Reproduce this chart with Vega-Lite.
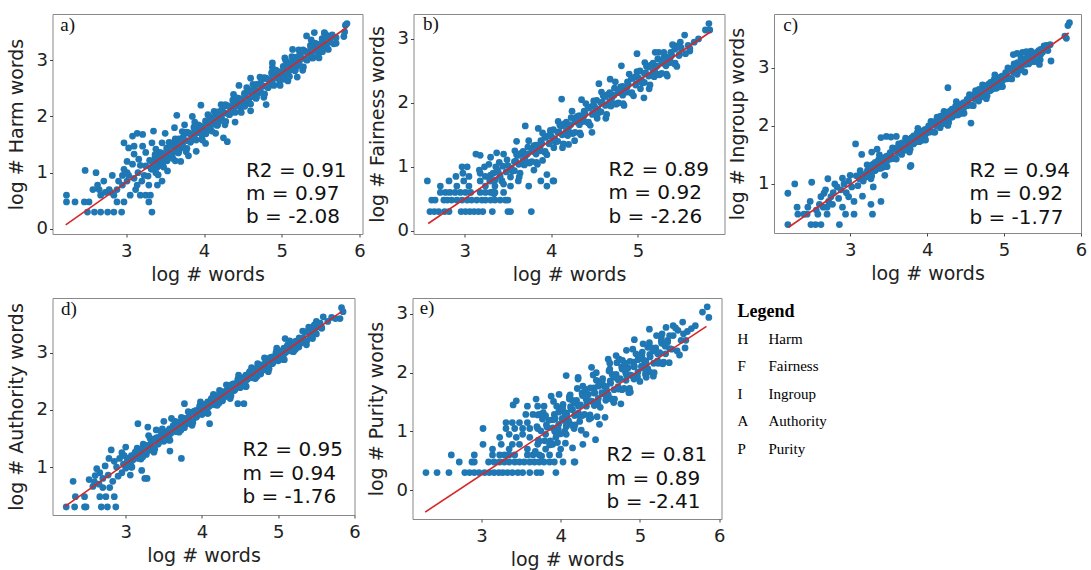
{
  "$schema": "https://vega.github.io/schema/vega-lite/v6.json",
  "background": "white",
  "padding": {"left": 6.5, "top": 13, "right": 2, "bottom": 2},
  "config": {
    "view": {"stroke": "#888888", "strokeWidth": 1},
    "axis": {
      "grid": false, "domain": false, "tickColor": "#444444", "tickSize": 3, "format": "d",
      "labelFont": "DejaVu Sans", "labelFontSize": 18, "labelColor": "#222222", "labelFlush": false,
      "titleFont": "DejaVu Sans", "titleFontSize": 19, "titleFontWeight": "normal", "titleColor": "#222222"
    },
    "axisX": {"labelPadding": 5, "titlePadding": 5},
    "axisY": {"labelPadding": 2, "titlePadding": 10}
  },
  "datasets": {
    "fits": [
      {"panel": "a", "x": 2.22, "y": 0.073}, {"panel": "a", "x": 5.84, "y": 3.585},
      {"panel": "b", "x": 2.58, "y": 0.114}, {"panel": "b", "x": 5.84, "y": 3.113},
      {"panel": "c", "x": 2.20, "y": 0.254}, {"panel": "c", "x": 5.84, "y": 3.603},
      {"panel": "d", "x": 2.20, "y": 0.308}, {"panel": "d", "x": 5.83, "y": 3.720},
      {"panel": "e", "x": 2.29, "y": -0.372}, {"panel": "e", "x": 5.84, "y": 2.788}
    ],
    "stats": [
      {"panel": "a", "tag": "a)", "label": "R2 = 0.91\nm = 0.97\nb = -2.08"},
      {"panel": "b", "tag": "b)", "label": "R2 = 0.89\nm = 0.92\nb = -2.26"},
      {"panel": "c", "tag": "c)", "label": "R2 = 0.94\nm = 0.92\nb = -1.77"},
      {"panel": "d", "tag": "d)", "label": "R2 = 0.95\nm = 0.94\nb = -1.76"},
      {"panel": "e", "tag": "e)", "label": "R2 = 0.81\nm = 0.89\nb = -2.41"}
    ],
    "legendItems": [
      {"code": "H", "name": "Harm", "rank": 1},
      {"code": "F", "name": "Fairness", "rank": 2},
      {"code": "I", "name": "Ingroup", "rank": 3},
      {"code": "A", "name": "Authority", "rank": 4},
      {"code": "P", "name": "Purity", "rank": 5}
    ],
    "harm": [
      {"x":2.23,"y":0.60},{"x":2.23,"y":0.48},{"x":2.34,"y":0.48},{"x":2.46,"y":0.48},{"x":2.52,"y":0.48},{"x":2.47,"y":1.04},
      {"x":2.50,"y":0.30},{"x":2.59,"y":0.30},{"x":2.67,"y":0.30},{"x":2.76,"y":0.30},{"x":2.84,"y":0.30},{"x":2.94,"y":0.30},
      {"x":2.61,"y":1.00},{"x":2.63,"y":0.78},{"x":2.65,"y":0.70},{"x":2.71,"y":0.85},{"x":2.82,"y":0.95},{"x":2.73,"y":0.65},{"x":2.80,"y":0.65},
      {"x":2.88,"y":0.70},{"x":2.95,"y":0.78},{"x":2.95,"y":0.95},{"x":3.01,"y":1.00},{"x":2.88,"y":0.48},{"x":2.97,"y":0.48},
      {"x":3.01,"y":0.85},{"x":3.10,"y":0.90},{"x":3.12,"y":0.70},{"x":3.18,"y":0.60},{"x":3.25,"y":0.60},{"x":3.31,"y":0.60},{"x":3.33,"y":0.30},{"x":3.29,"y":0.48},
      {"x":2.97,"y":1.53},{"x":3.03,"y":1.44},{"x":3.08,"y":1.65},{"x":3.14,"y":1.70},{"x":3.21,"y":1.68},{"x":3.10,"y":1.47},{"x":3.10,"y":1.33},{"x":3.16,"y":1.24},
      {"x":3.01,"y":1.20},{"x":3.08,"y":1.15},{"x":2.97,"y":1.06},{"x":3.03,"y":0.95},{"x":3.21,"y":1.47},{"x":3.25,"y":1.36},{"x":3.18,"y":1.13},{"x":3.25,"y":1.12},
      {"x":3.33,"y":1.53},{"x":3.37,"y":1.27},{"x":3.33,"y":1.10},{"x":3.41,"y":0.96},{"x":3.46,"y":0.85},{"x":3.35,"y":1.74},{"x":3.65,"y":2.02},
      {"x":3.29,"y":0.78},{"x":3.14,"y":0.78},{"x":2.90,"y":0.85},{"x":2.78,"y":0.70},{"x":2.84,"y":0.60},{"x":2.67,"y":0.60},{"x":2.57,"y":0.70},
      {"x":3.53,"y":1.03},{"x":3.59,"y":1.32},{"x":3.63,"y":1.21},{"x":3.53,"y":1.32},{"x":3.46,"y":1.53},{"x":3.57,"y":1.53},
      {"x":3.05,"y":0.60},{"x":3.20,"y":0.85},{"x":3.15,"y":1.00},{"x":3.38,"y":1.00},{"x":3.42,"y":1.15},{"x":3.23,"y":0.95},{"x":3.40,"y":0.78},
      {"x":3.50,"y":1.70},{"x":3.62,"y":1.80},{"x":3.75,"y":1.85},{"x":3.85,"y":2.00},{"x":3.96,"y":2.20},{"x":3.70,"y":1.20},{"x":3.80,"y":1.30},{"x":3.90,"y":1.38},
      {"x":4.02,"y":1.52},{"x":4.30,"y":1.55},{"x":4.25,"y":1.62},{"x":4.15,"y":1.70},{"x":4.45,"y":2.55},{"x":4.60,"y":2.68},{"x":4.88,"y":2.95},{"x":5.04,"y":3.04},
      {"x":5.14,"y":3.19},{"x":5.32,"y":3.43},{"x":5.42,"y":3.49},{"x":5.55,"y":3.49},{"x":5.44,"y":3.16},{"x":5.40,"y":3.04},{"x":5.08,"y":2.63},{"x":4.80,"y":2.21},
      {"x":5.08,"y":2.75},{"x":4.60,"y":2.10},{"x":4.40,"y":1.90},{"x":5.20,"y":2.70},{"x":5.60,"y":3.42},{"x":5.70,"y":3.30},
      {"x":3.30,"y":1.22},{"x":3.32,"y":1.07},{"x":3.28,"y":0.94},
      {"x":3.35,"y":1.19},{"x":3.37,"y":1.32},{"x":3.33,"y":1.07},
      {"x":3.40,"y":1.10},{"x":3.42,"y":1.28},{"x":3.38,"y":1.42},
      {"x":3.45,"y":1.35},{"x":3.47,"y":1.12},{"x":3.43,"y":1.27},
      {"x":3.50,"y":1.29},{"x":3.52,"y":1.44},{"x":3.48,"y":1.10},
      {"x":3.55,"y":1.54},{"x":3.57,"y":1.28},{"x":3.53,"y":1.40},
      {"x":3.60,"y":1.25},{"x":3.62,"y":1.42},{"x":3.58,"y":1.50},
      {"x":3.65,"y":1.51},{"x":3.67,"y":1.35},{"x":3.63,"y":1.60},
      {"x":3.70,"y":1.44},{"x":3.72,"y":1.73},{"x":3.68,"y":1.49},
      {"x":3.75,"y":1.69},{"x":3.77,"y":1.37},{"x":3.73,"y":1.59},
      {"x":3.80,"y":1.71},{"x":3.82,"y":1.56},{"x":3.78,"y":1.43},
      {"x":3.85,"y":1.68},{"x":3.87,"y":1.81},{"x":3.83,"y":1.56},
      {"x":3.90,"y":1.58},{"x":3.92,"y":1.76},{"x":3.88,"y":1.90},
      {"x":3.95,"y":1.83},{"x":3.97,"y":1.60},{"x":3.93,"y":1.75},
      {"x":4.00,"y":1.77},{"x":4.02,"y":1.92},{"x":3.98,"y":1.58},
      {"x":4.05,"y":2.03},{"x":4.07,"y":1.77},{"x":4.03,"y":1.89},
      {"x":4.10,"y":1.74},{"x":4.12,"y":1.91},{"x":4.08,"y":1.99},
      {"x":4.15,"y":2.00},{"x":4.17,"y":1.84},{"x":4.13,"y":2.09},
      {"x":4.20,"y":1.92},{"x":4.22,"y":2.21},{"x":4.18,"y":1.97},
      {"x":4.25,"y":2.17},{"x":4.27,"y":1.85},{"x":4.23,"y":2.07},
      {"x":4.30,"y":2.19},{"x":4.32,"y":2.04},{"x":4.28,"y":1.91},
      {"x":4.35,"y":2.16},{"x":4.37,"y":2.29},{"x":4.33,"y":2.04},
      {"x":4.40,"y":2.07},{"x":4.42,"y":2.25},{"x":4.38,"y":2.39},
      {"x":4.45,"y":2.32},{"x":4.47,"y":2.09},{"x":4.43,"y":2.24},
      {"x":4.50,"y":2.26},{"x":4.52,"y":2.41},{"x":4.48,"y":2.07},
      {"x":4.55,"y":2.51},{"x":4.57,"y":2.25},{"x":4.53,"y":2.37},
      {"x":4.60,"y":2.22},{"x":4.62,"y":2.39},{"x":4.58,"y":2.47},
      {"x":4.65,"y":2.48},{"x":4.67,"y":2.32},{"x":4.63,"y":2.57},
      {"x":4.70,"y":2.41},{"x":4.72,"y":2.70},{"x":4.68,"y":2.46},
      {"x":4.75,"y":2.66},{"x":4.77,"y":2.34},{"x":4.73,"y":2.56},
      {"x":4.80,"y":2.68},{"x":4.82,"y":2.53},{"x":4.78,"y":2.40},
      {"x":4.85,"y":2.65},{"x":4.87,"y":2.78},{"x":4.83,"y":2.53},
      {"x":4.90,"y":2.55},{"x":4.92,"y":2.73},{"x":4.88,"y":2.87},
      {"x":4.95,"y":2.80},{"x":4.97,"y":2.57},{"x":4.93,"y":2.72},
      {"x":5.00,"y":2.74},{"x":5.02,"y":2.89},{"x":4.98,"y":2.55},
      {"x":5.05,"y":3.00},{"x":5.07,"y":2.74},{"x":5.03,"y":2.86},
      {"x":5.10,"y":2.71},{"x":5.12,"y":2.88},{"x":5.08,"y":2.96},
      {"x":5.15,"y":2.97},{"x":5.17,"y":2.81},{"x":5.13,"y":3.06},
      {"x":5.20,"y":2.89},{"x":5.22,"y":3.18},{"x":5.18,"y":2.94},
      {"x":5.25,"y":3.14},{"x":5.27,"y":2.82},{"x":5.23,"y":3.04},
      {"x":5.30,"y":3.16},{"x":5.32,"y":3.01},{"x":5.28,"y":2.88},
      {"x":5.35,"y":3.13},{"x":5.37,"y":3.26},{"x":5.33,"y":3.01},
      {"x":5.40,"y":3.04},{"x":5.42,"y":3.22},{"x":5.38,"y":3.36},
      {"x":5.45,"y":3.29},{"x":5.47,"y":3.06},{"x":5.43,"y":3.21},
      {"x":5.50,"y":3.23},{"x":5.52,"y":3.38},{"x":5.48,"y":3.04},
      {"x":5.55,"y":3.48},{"x":5.57,"y":3.22},{"x":5.53,"y":3.34},
      {"x":5.60,"y":3.19},{"x":5.62,"y":3.36},{"x":5.58,"y":3.44},
      {"x":5.65,"y":3.45},{"x":5.67,"y":3.29},{"x":5.70,"y":3.40},
      {"x":5.82,"y":3.62},{"x":5.84,"y":3.65},{"x":5.80,"y":3.42},{"x":5.81,"y":3.50},
      {"x":3.325,"y":1.20},{"x":3.325,"y":1.06},{"x":3.375,"y":1.15},{"x":3.375,"y":1.29},{"x":3.425,"y":1.36},{"x":3.425,"y":1.22},
      {"x":3.475,"y":1.19},{"x":3.475,"y":1.32},{"x":3.525,"y":1.41},{"x":3.525,"y":1.21},{"x":3.575,"y":1.33},{"x":3.575,"y":1.47},
      {"x":3.625,"y":1.46},{"x":3.625,"y":1.38},{"x":3.675,"y":1.37},{"x":3.675,"y":1.60},{"x":3.725,"y":1.62},{"x":3.725,"y":1.49},
      {"x":3.775,"y":1.57},{"x":3.775,"y":1.72},{"x":3.825,"y":1.68},{"x":3.825,"y":1.54},{"x":3.875,"y":1.64},{"x":3.875,"y":1.78},
      {"x":3.925,"y":1.85},{"x":3.925,"y":1.71},{"x":3.975,"y":1.68},{"x":3.975,"y":1.81},{"x":4.025,"y":1.89},{"x":4.025,"y":1.69},
      {"x":4.075,"y":1.81},{"x":4.075,"y":1.95},{"x":4.125,"y":1.94},{"x":4.125,"y":1.86},{"x":4.175,"y":1.85},{"x":4.175,"y":2.08},
      {"x":4.225,"y":2.11},{"x":4.225,"y":1.98},{"x":4.275,"y":2.06},{"x":4.275,"y":2.21},{"x":4.325,"y":2.17},{"x":4.325,"y":2.03},
      {"x":4.375,"y":2.12},{"x":4.375,"y":2.26},{"x":4.425,"y":2.33},{"x":4.425,"y":2.19},{"x":4.475,"y":2.16},{"x":4.475,"y":2.29},
      {"x":4.525,"y":2.38},{"x":4.525,"y":2.18},{"x":4.575,"y":2.30},{"x":4.575,"y":2.44},{"x":4.625,"y":2.43},{"x":4.625,"y":2.35},
      {"x":4.675,"y":2.34},{"x":4.675,"y":2.57},{"x":4.725,"y":2.59},{"x":4.725,"y":2.46},{"x":4.775,"y":2.54},{"x":4.775,"y":2.69},
      {"x":4.825,"y":2.65},{"x":4.825,"y":2.51},{"x":4.875,"y":2.61},{"x":4.875,"y":2.75},{"x":4.925,"y":2.82},{"x":4.925,"y":2.68},
      {"x":4.975,"y":2.65},{"x":4.975,"y":2.78},{"x":5.025,"y":2.86},{"x":5.025,"y":2.66},{"x":5.075,"y":2.78},{"x":5.075,"y":2.92},
      {"x":5.125,"y":2.91},{"x":5.125,"y":2.83},{"x":5.175,"y":2.82},{"x":5.175,"y":3.05},{"x":5.225,"y":3.08},{"x":5.225,"y":2.95},
      {"x":5.275,"y":3.03},{"x":5.275,"y":3.18},{"x":5.325,"y":3.14},{"x":5.325,"y":3.00},{"x":5.375,"y":3.09},{"x":5.375,"y":3.23},
      {"x":5.425,"y":3.30},{"x":5.425,"y":3.16},{"x":5.475,"y":3.13},{"x":5.475,"y":3.26},{"x":5.525,"y":3.35},{"x":5.525,"y":3.15},
      {"x":5.575,"y":3.27},{"x":5.575,"y":3.41},{"x":5.625,"y":3.40},{"x":5.625,"y":3.32}
    ],
    "fairness": [
      {"x":2.60,"y":0.30},{"x":2.65,"y":0.30},{"x":2.70,"y":0.30},{"x":2.77,"y":0.30},{"x":2.82,"y":0.30},{"x":2.96,"y":0.30},{"x":3.01,"y":0.30},{"x":3.06,"y":0.30},
      {"x":3.11,"y":0.30},{"x":3.16,"y":0.30},{"x":3.21,"y":0.30},{"x":3.32,"y":0.30},{"x":3.50,"y":0.30},{"x":3.53,"y":0.30},{"x":3.77,"y":0.30},
      {"x":2.62,"y":0.48},{"x":2.66,"y":0.48},{"x":2.76,"y":0.48},{"x":2.80,"y":0.48},{"x":2.85,"y":0.48},{"x":2.91,"y":0.48},{"x":2.97,"y":0.48},{"x":3.03,"y":0.48},
      {"x":3.08,"y":0.48},{"x":3.14,"y":0.48},{"x":3.20,"y":0.48},{"x":3.24,"y":0.48},{"x":3.30,"y":0.48},{"x":3.35,"y":0.48},{"x":3.41,"y":0.48},{"x":3.47,"y":0.48},{"x":3.50,"y":0.48},
      {"x":2.72,"y":0.60},{"x":2.78,"y":0.60},{"x":2.83,"y":0.60},{"x":2.89,"y":0.60},{"x":2.95,"y":0.60},{"x":3.01,"y":0.60},{"x":3.07,"y":0.60},{"x":3.18,"y":0.60},
      {"x":3.24,"y":0.60},{"x":3.30,"y":0.60},{"x":3.35,"y":0.60},{"x":3.45,"y":0.60},
      {"x":2.57,"y":0.78},{"x":2.72,"y":0.70},{"x":2.82,"y":0.78},{"x":2.91,"y":0.70},{"x":2.99,"y":0.78},{"x":3.05,"y":0.70},{"x":3.18,"y":0.78},{"x":3.24,"y":0.70},
      {"x":3.30,"y":0.78},{"x":3.35,"y":0.70},{"x":3.43,"y":0.78},{"x":3.53,"y":0.70},{"x":3.62,"y":0.78},{"x":3.74,"y":0.70},{"x":3.88,"y":0.78},{"x":3.95,"y":0.70},{"x":4.03,"y":0.78},
      {"x":2.90,"y":0.85},{"x":2.98,"y":0.90},{"x":3.05,"y":0.85},{"x":3.18,"y":0.90},{"x":3.24,"y":0.85},{"x":3.33,"y":0.90},{"x":3.41,"y":0.85},
      {"x":2.97,"y":1.00},{"x":3.03,"y":1.00},{"x":3.17,"y":0.95},{"x":3.23,"y":1.00},{"x":3.28,"y":1.04},{"x":3.36,"y":1.00},
      {"x":3.13,"y":1.20},{"x":3.18,"y":1.18},{"x":3.30,"y":1.15},{"x":3.37,"y":1.22},{"x":3.45,"y":1.20},
      {"x":5.82,"y":3.24},{"x":5.78,"y":3.14},{"x":5.83,"y":3.14},{"x":5.54,"y":3.06},{"x":5.43,"y":2.89},{"x":5.30,"y":2.79},{"x":5.20,"y":2.79},{"x":4.99,"y":2.77},
      {"x":4.81,"y":2.58},{"x":4.68,"y":2.37},{"x":4.12,"y":2.06},{"x":4.47,"y":1.54},{"x":4.27,"y":1.41},{"x":4.02,"y":0.78},{"x":3.95,"y":0.88},{"x":3.70,"y":1.64},
      {"x":5.07,"y":2.08},{"x":5.60,"y":2.81},{"x":5.65,"y":2.95},{"x":5.58,"y":2.90},{"x":5.70,"y":3.00},{"x":4.35,"y":2.05},{"x":4.55,"y":2.30},{"x":3.60,"y":1.40},
      {"x":3.85,"y":1.60},{"x":4.20,"y":1.35},{"x":3.80,"y":0.95},{"x":3.90,"y":1.10},
      {"x":3.30,"y":0.87},{"x":3.33,"y":0.61},{"x":3.29,"y":0.78},
      {"x":3.35,"y":0.79},{"x":3.38,"y":0.95},{"x":3.34,"y":0.58},
      {"x":3.40,"y":1.07},{"x":3.43,"y":0.78},{"x":3.39,"y":0.91},
      {"x":3.45,"y":0.73},{"x":3.48,"y":0.92},{"x":3.44,"y":1.01},
      {"x":3.50,"y":1.02},{"x":3.53,"y":0.84},{"x":3.49,"y":1.11},
      {"x":3.55,"y":0.93},{"x":3.58,"y":1.25},{"x":3.54,"y":0.98},
      {"x":3.60,"y":1.19},{"x":3.63,"y":0.84},{"x":3.59,"y":1.09},
      {"x":3.65,"y":1.21},{"x":3.68,"y":1.04},{"x":3.64,"y":0.90},
      {"x":3.70,"y":1.16},{"x":3.73,"y":1.31},{"x":3.69,"y":1.03},
      {"x":3.75,"y":1.06},{"x":3.78,"y":1.26},{"x":3.74,"y":1.41},
      {"x":3.80,"y":1.33},{"x":3.83,"y":1.07},{"x":3.79,"y":1.24},
      {"x":3.85,"y":1.25},{"x":3.88,"y":1.41},{"x":3.84,"y":1.04},
      {"x":3.90,"y":1.53},{"x":3.93,"y":1.24},{"x":3.89,"y":1.37},
      {"x":3.95,"y":1.19},{"x":3.98,"y":1.38},{"x":3.94,"y":1.47},
      {"x":4.00,"y":1.48},{"x":4.03,"y":1.30},{"x":3.99,"y":1.57},
      {"x":4.05,"y":1.39},{"x":4.08,"y":1.71},{"x":4.04,"y":1.44},
      {"x":4.10,"y":1.65},{"x":4.13,"y":1.30},{"x":4.09,"y":1.55},
      {"x":4.15,"y":1.67},{"x":4.18,"y":1.50},{"x":4.14,"y":1.36},
      {"x":4.20,"y":1.62},{"x":4.23,"y":1.77},{"x":4.19,"y":1.49},
      {"x":4.25,"y":1.52},{"x":4.28,"y":1.72},{"x":4.24,"y":1.87},
      {"x":4.30,"y":1.79},{"x":4.33,"y":1.53},{"x":4.29,"y":1.70},
      {"x":4.35,"y":1.71},{"x":4.38,"y":1.87},{"x":4.34,"y":1.50},
      {"x":4.40,"y":1.99},{"x":4.43,"y":1.70},{"x":4.39,"y":1.83},
      {"x":4.45,"y":1.65},{"x":4.48,"y":1.84},{"x":4.44,"y":1.93},
      {"x":4.50,"y":1.94},{"x":4.53,"y":1.76},{"x":4.49,"y":2.03},
      {"x":4.55,"y":1.85},{"x":4.58,"y":2.17},{"x":4.54,"y":1.90},
      {"x":4.60,"y":2.11},{"x":4.63,"y":1.76},{"x":4.59,"y":2.01},
      {"x":4.65,"y":2.13},{"x":4.68,"y":1.96},{"x":4.64,"y":1.82},
      {"x":4.70,"y":2.08},{"x":4.73,"y":2.23},{"x":4.69,"y":1.95},
      {"x":4.75,"y":1.98},{"x":4.78,"y":2.18},{"x":4.74,"y":2.33},
      {"x":4.80,"y":2.25},{"x":4.83,"y":1.99},{"x":4.79,"y":2.16},
      {"x":4.85,"y":2.17},{"x":4.88,"y":2.33},{"x":4.84,"y":1.96},
      {"x":4.90,"y":2.45},{"x":4.93,"y":2.16},{"x":4.89,"y":2.29},
      {"x":4.95,"y":2.11},{"x":4.98,"y":2.30},{"x":4.94,"y":2.39},
      {"x":5.00,"y":2.40},{"x":5.03,"y":2.22},{"x":4.99,"y":2.49},
      {"x":5.05,"y":2.31},{"x":5.08,"y":2.63},{"x":5.04,"y":2.36},
      {"x":5.10,"y":2.57},{"x":5.13,"y":2.22},{"x":5.09,"y":2.47},
      {"x":5.15,"y":2.59},{"x":5.18,"y":2.42},{"x":5.14,"y":2.28},
      {"x":5.20,"y":2.54},{"x":5.23,"y":2.69},{"x":5.19,"y":2.41},
      {"x":5.25,"y":2.44},{"x":5.28,"y":2.64},{"x":5.24,"y":2.79},
      {"x":5.30,"y":2.71},{"x":5.33,"y":2.45},{"x":5.29,"y":2.62},
      {"x":5.35,"y":2.63},{"x":5.38,"y":2.79},{"x":5.34,"y":2.42},
      {"x":5.40,"y":2.91},{"x":5.43,"y":2.62},{"x":5.39,"y":2.75},
      {"x":5.45,"y":2.57},{"x":5.48,"y":2.76},{"x":5.50,"y":2.86},{"x":5.49,"y":2.95},
      {"x":5.55,"y":2.77},{"x":5.60,"y":2.85},
      {"x":3.575,"y":1.08},{"x":3.575,"y":0.94},{"x":3.625,"y":1.04},{"x":3.625,"y":1.18},{"x":3.675,"y":1.24},{"x":3.675,"y":1.10},
      {"x":3.725,"y":1.07},{"x":3.725,"y":1.20},{"x":3.775,"y":1.28},{"x":3.775,"y":1.08},{"x":3.825,"y":1.20},{"x":3.825,"y":1.34},
      {"x":3.875,"y":1.33},{"x":3.875,"y":1.25},{"x":3.925,"y":1.23},{"x":3.925,"y":1.46},{"x":3.975,"y":1.49},{"x":3.975,"y":1.36},
      {"x":4.025,"y":1.43},{"x":4.025,"y":1.58},{"x":4.075,"y":1.54},{"x":4.075,"y":1.40},{"x":4.125,"y":1.50},{"x":4.125,"y":1.64},
      {"x":4.175,"y":1.70},{"x":4.175,"y":1.56},{"x":4.225,"y":1.53},{"x":4.225,"y":1.66},{"x":4.275,"y":1.74},{"x":4.275,"y":1.54},
      {"x":4.325,"y":1.66},{"x":4.325,"y":1.80},{"x":4.375,"y":1.79},{"x":4.375,"y":1.71},{"x":4.425,"y":1.69},{"x":4.425,"y":1.92},
      {"x":4.475,"y":1.95},{"x":4.475,"y":1.82},{"x":4.525,"y":1.89},{"x":4.525,"y":2.04},{"x":4.575,"y":2.00},{"x":4.575,"y":1.86},
      {"x":4.625,"y":1.96},{"x":4.625,"y":2.10},{"x":4.675,"y":2.16},{"x":4.675,"y":2.02},{"x":4.725,"y":1.99},{"x":4.725,"y":2.12},
      {"x":4.775,"y":2.20},{"x":4.775,"y":2.00},{"x":4.825,"y":2.12},{"x":4.825,"y":2.26},{"x":4.875,"y":2.25},{"x":4.875,"y":2.17},
      {"x":4.925,"y":2.15},{"x":4.925,"y":2.38},{"x":4.975,"y":2.41},{"x":4.975,"y":2.28},{"x":5.025,"y":2.35},{"x":5.025,"y":2.50},
      {"x":5.075,"y":2.46},{"x":5.075,"y":2.32},{"x":5.125,"y":2.42},{"x":5.125,"y":2.56},{"x":5.175,"y":2.62},{"x":5.175,"y":2.48},
      {"x":5.225,"y":2.45},{"x":5.225,"y":2.58},{"x":5.275,"y":2.66},{"x":5.275,"y":2.46},{"x":5.325,"y":2.58},{"x":5.325,"y":2.72},
      {"x":5.375,"y":2.71},{"x":5.375,"y":2.63},{"x":5.425,"y":2.61},{"x":5.425,"y":2.84},{"x":5.475,"y":2.87},{"x":5.475,"y":2.74}
    ],
    "ingroup": [
      {"x":2.19,"y":0.30},{"x":2.19,"y":0.84},{"x":2.28,"y":1.00},{"x":2.31,"y":0.60},{"x":2.32,"y":0.48},{"x":2.44,"y":0.48},{"x":2.49,"y":0.30},{"x":2.55,"y":0.30},
      {"x":2.62,"y":0.30},{"x":2.50,"y":1.03},{"x":2.48,"y":0.70},{"x":2.56,"y":0.55},{"x":2.60,"y":0.65},{"x":2.62,"y":0.78},{"x":2.66,"y":0.84},{"x":2.65,"y":0.60},
      {"x":2.70,"y":0.60},{"x":2.72,"y":0.70},{"x":2.71,"y":1.09},{"x":2.68,"y":0.90},{"x":2.86,"y":0.30},{"x":2.94,"y":0.48},{"x":3.05,"y":0.48},{"x":3.05,"y":0.70},
      {"x":3.16,"y":0.79},{"x":3.27,"y":0.65},{"x":3.29,"y":0.48},{"x":3.40,"y":0.70},{"x":3.79,"y":1.32},{"x":3.07,"y":1.69},{"x":2.78,"y":0.85},{"x":2.83,"y":0.95},
      {"x":2.75,"y":0.78},{"x":2.88,"y":0.90},{"x":2.92,"y":1.00},{"x":2.95,"y":0.85},{"x":2.80,"y":1.00},{"x":2.98,"y":1.05},{"x":3.02,"y":0.95},{"x":2.85,"y":0.75},
      {"x":2.90,"y":1.10},{"x":3.00,"y":1.15},{"x":2.58,"y":0.48},{"x":2.70,"y":0.48},{"x":2.77,"y":0.65},{"x":2.45,"y":0.60},{"x":2.40,"y":0.48},{"x":2.90,"y":0.60},{"x":2.98,"y":0.78},
      {"x":5.85,"y":3.78},{"x":5.83,"y":3.73},{"x":5.81,"y":3.51},{"x":5.79,"y":3.55},{"x":5.46,"y":3.06},{"x":5.12,"y":3.23},{"x":5.35,"y":3.29},{"x":4.57,"y":2.05},
      {"x":4.27,"y":2.66},{"x":3.78,"y":1.30},{"x":5.61,"y":3.12},{"x":5.17,"y":3.25},{"x":5.24,"y":3.27},{"x":5.29,"y":3.28},
      {"x":3.40,"y":1.80},{"x":3.47,"y":1.82},{"x":3.53,"y":1.81},{"x":3.60,"y":1.82},{"x":3.15,"y":1.51},{"x":3.28,"y":1.55},{"x":3.35,"y":1.60},{"x":3.30,"y":0.95},{"x":3.45,"y":1.15},
      {"x":3.10,"y":0.97},{"x":3.12,"y":1.09},{"x":3.08,"y":1.14},
      {"x":3.15,"y":1.16},{"x":3.17,"y":1.05},{"x":3.13,"y":1.23},
      {"x":3.20,"y":1.12},{"x":3.22,"y":1.33},{"x":3.18,"y":1.16},
      {"x":3.25,"y":1.31},{"x":3.27,"y":1.09},{"x":3.23,"y":1.24},
      {"x":3.30,"y":1.34},{"x":3.32,"y":1.23},{"x":3.28,"y":1.14},
      {"x":3.35,"y":1.33},{"x":3.37,"y":1.42},{"x":3.33,"y":1.24},
      {"x":3.40,"y":1.27},{"x":3.42,"y":1.40},{"x":3.38,"y":1.50},
      {"x":3.45,"y":1.46},{"x":3.47,"y":1.30},{"x":3.43,"y":1.40},
      {"x":3.50,"y":1.43},{"x":3.52,"y":1.54},{"x":3.48,"y":1.30},
      {"x":3.55,"y":1.62},{"x":3.57,"y":1.44},{"x":3.53,"y":1.53},
      {"x":3.60,"y":1.43},{"x":3.62,"y":1.55},{"x":3.58,"y":1.61},
      {"x":3.65,"y":1.62},{"x":3.67,"y":1.51},{"x":3.63,"y":1.69},
      {"x":3.70,"y":1.58},{"x":3.72,"y":1.79},{"x":3.68,"y":1.62},
      {"x":3.75,"y":1.77},{"x":3.77,"y":1.55},{"x":3.73,"y":1.70},
      {"x":3.80,"y":1.80},{"x":3.82,"y":1.69},{"x":3.78,"y":1.60},
      {"x":3.85,"y":1.79},{"x":3.87,"y":1.88},{"x":3.83,"y":1.70},
      {"x":3.90,"y":1.73},{"x":3.92,"y":1.86},{"x":3.88,"y":1.96},
      {"x":3.95,"y":1.92},{"x":3.97,"y":1.76},{"x":3.93,"y":1.86},
      {"x":4.00,"y":1.89},{"x":4.02,"y":2.00},{"x":3.98,"y":1.76},
      {"x":4.05,"y":2.08},{"x":4.07,"y":1.90},{"x":4.03,"y":1.99},
      {"x":4.10,"y":1.89},{"x":4.12,"y":2.01},{"x":4.08,"y":2.07},
      {"x":4.15,"y":2.08},{"x":4.17,"y":1.97},{"x":4.13,"y":2.15},
      {"x":4.20,"y":2.04},{"x":4.22,"y":2.25},{"x":4.18,"y":2.08},
      {"x":4.25,"y":2.23},{"x":4.27,"y":2.01},{"x":4.23,"y":2.16},
      {"x":4.30,"y":2.26},{"x":4.32,"y":2.15},{"x":4.28,"y":2.06},
      {"x":4.35,"y":2.25},{"x":4.37,"y":2.34},{"x":4.33,"y":2.16},
      {"x":4.40,"y":2.19},{"x":4.42,"y":2.32},{"x":4.38,"y":2.42},
      {"x":4.45,"y":2.38},{"x":4.47,"y":2.22},{"x":4.43,"y":2.32},
      {"x":4.50,"y":2.35},{"x":4.52,"y":2.46},{"x":4.48,"y":2.22},
      {"x":4.55,"y":2.54},{"x":4.57,"y":2.36},{"x":4.53,"y":2.45},
      {"x":4.60,"y":2.35},{"x":4.62,"y":2.47},{"x":4.58,"y":2.53},
      {"x":4.65,"y":2.54},{"x":4.67,"y":2.43},{"x":4.63,"y":2.61},
      {"x":4.70,"y":2.50},{"x":4.72,"y":2.71},{"x":4.68,"y":2.54},
      {"x":4.75,"y":2.69},{"x":4.77,"y":2.47},{"x":4.73,"y":2.62},
      {"x":4.80,"y":2.72},{"x":4.82,"y":2.61},{"x":4.78,"y":2.52},
      {"x":4.85,"y":2.71},{"x":4.87,"y":2.80},{"x":4.83,"y":2.62},
      {"x":4.90,"y":2.65},{"x":4.92,"y":2.78},{"x":4.88,"y":2.88},
      {"x":4.95,"y":2.84},{"x":4.97,"y":2.68},{"x":4.93,"y":2.78},
      {"x":5.00,"y":2.81},{"x":5.02,"y":2.92},{"x":4.98,"y":2.68},
      {"x":5.05,"y":3.00},{"x":5.07,"y":2.82},{"x":5.03,"y":2.91},
      {"x":5.10,"y":2.81},{"x":5.12,"y":2.93},{"x":5.08,"y":2.99},
      {"x":5.15,"y":3.00},{"x":5.17,"y":2.89},{"x":5.13,"y":3.07},
      {"x":5.20,"y":2.96},{"x":5.22,"y":3.17},{"x":5.18,"y":3.00},
      {"x":5.25,"y":3.15},{"x":5.27,"y":2.93},{"x":5.23,"y":3.08},
      {"x":5.30,"y":3.18},{"x":5.32,"y":3.07},{"x":5.35,"y":3.17},{"x":5.37,"y":3.26},
      {"x":5.40,"y":3.11},{"x":5.42,"y":3.24},{"x":5.45,"y":3.30},{"x":5.47,"y":3.14},
      {"x":5.50,"y":3.27},{"x":5.52,"y":3.38},{"x":5.55,"y":3.39},{"x":5.57,"y":3.30},{"x":5.60,"y":3.40},
      {"x":3.225,"y":1.23},{"x":3.225,"y":1.13},{"x":3.275,"y":1.22},{"x":3.275,"y":1.31},{"x":3.325,"y":1.37},{"x":3.325,"y":1.28},
      {"x":3.375,"y":1.27},{"x":3.375,"y":1.36},{"x":3.425,"y":1.43},{"x":3.425,"y":1.29},{"x":3.475,"y":1.39},{"x":3.475,"y":1.48},
      {"x":3.525,"y":1.49},{"x":3.525,"y":1.43},{"x":3.575,"y":1.44},{"x":3.575,"y":1.60},{"x":3.625,"y":1.63},{"x":3.625,"y":1.54},
      {"x":3.675,"y":1.60},{"x":3.675,"y":1.71},{"x":3.725,"y":1.69},{"x":3.725,"y":1.59},{"x":3.775,"y":1.68},{"x":3.775,"y":1.77},
      {"x":3.825,"y":1.83},{"x":3.825,"y":1.74},{"x":3.875,"y":1.73},{"x":3.875,"y":1.82},{"x":3.925,"y":1.89},{"x":3.925,"y":1.75},
      {"x":3.975,"y":1.85},{"x":3.975,"y":1.94},{"x":4.025,"y":1.95},{"x":4.025,"y":1.89},{"x":4.075,"y":1.90},{"x":4.075,"y":2.06},
      {"x":4.125,"y":2.09},{"x":4.125,"y":2.00},{"x":4.175,"y":2.06},{"x":4.175,"y":2.17},{"x":4.225,"y":2.15},{"x":4.225,"y":2.05},
      {"x":4.275,"y":2.14},{"x":4.275,"y":2.23},{"x":4.325,"y":2.29},{"x":4.325,"y":2.20},{"x":4.375,"y":2.19},{"x":4.375,"y":2.28},
      {"x":4.425,"y":2.35},{"x":4.425,"y":2.21},{"x":4.475,"y":2.31},{"x":4.475,"y":2.40},{"x":4.525,"y":2.41},{"x":4.525,"y":2.35},
      {"x":4.575,"y":2.36},{"x":4.575,"y":2.52},{"x":4.625,"y":2.55},{"x":4.625,"y":2.46},{"x":4.675,"y":2.52},{"x":4.675,"y":2.63},
      {"x":4.725,"y":2.61},{"x":4.725,"y":2.51},{"x":4.775,"y":2.60},{"x":4.775,"y":2.69},{"x":4.825,"y":2.75},{"x":4.825,"y":2.66},
      {"x":4.875,"y":2.65},{"x":4.875,"y":2.74},{"x":4.925,"y":2.81},{"x":4.925,"y":2.67},{"x":4.975,"y":2.77},{"x":4.975,"y":2.86},
      {"x":5.025,"y":2.87},{"x":5.025,"y":2.81},{"x":5.075,"y":2.82},{"x":5.075,"y":2.98},{"x":5.125,"y":3.01},{"x":5.125,"y":2.92},
      {"x":5.175,"y":2.98},{"x":5.175,"y":3.09},{"x":5.225,"y":3.07},{"x":5.225,"y":2.97},{"x":5.275,"y":3.06},{"x":5.275,"y":3.15},
      {"x":5.325,"y":3.21},{"x":5.325,"y":3.12},{"x":5.375,"y":3.11},{"x":5.375,"y":3.20},{"x":5.425,"y":3.27},{"x":5.425,"y":3.13},
      {"x":5.475,"y":3.23},{"x":5.475,"y":3.32}
    ],
    "authority": [
      {"x":2.22,"y":0.30},{"x":2.33,"y":0.30},{"x":2.46,"y":0.30},{"x":2.48,"y":0.30},{"x":2.68,"y":0.30},{"x":2.76,"y":0.30},{"x":2.87,"y":0.30},
      {"x":2.31,"y":0.75},{"x":2.34,"y":0.48},{"x":2.46,"y":0.48},{"x":2.52,"y":0.78},{"x":2.59,"y":0.74},{"x":2.70,"y":0.64},{"x":2.79,"y":0.64},{"x":2.66,"y":0.48},
      {"x":2.74,"y":0.48},{"x":2.85,"y":0.48},{"x":2.62,"y":0.97},{"x":2.66,"y":0.90},{"x":2.73,"y":1.02},{"x":2.77,"y":0.86},{"x":2.95,"y":0.90},{"x":3.06,"y":0.86},
      {"x":3.08,"y":1.00},{"x":3.21,"y":0.94},{"x":3.28,"y":0.80},{"x":2.81,"y":1.30},{"x":2.57,"y":0.66},{"x":2.90,"y":0.84},{"x":2.85,"y":1.10},{"x":2.92,"y":1.15},
      {"x":2.88,"y":1.00},{"x":2.95,"y":1.25},{"x":3.00,"y":1.35},{"x":2.78,"y":1.15},{"x":2.70,"y":0.80},{"x":2.60,"y":0.85},{"x":2.83,"y":0.75},{"x":2.97,"y":1.05},{"x":2.65,"y":0.70},
      {"x":5.83,"y":3.79},{"x":5.85,"y":3.72},{"x":5.81,"y":3.60},{"x":5.59,"y":3.63},{"x":5.57,"y":3.43},{"x":5.09,"y":3.25},{"x":4.47,"y":2.11},{"x":4.55,"y":2.11},
      {"x":4.10,"y":1.76},{"x":3.73,"y":1.15},{"x":3.58,"y":1.28},{"x":3.25,"y":0.80},{"x":3.16,"y":1.76},{"x":3.29,"y":1.70},{"x":3.77,"y":2.11},{"x":5.40,"y":3.45},
      {"x":5.50,"y":3.55},{"x":5.45,"y":3.25},{"x":5.65,"y":3.55},{"x":5.70,"y":3.62},{"x":5.75,"y":3.60},{"x":3.50,"y":1.80},{"x":3.40,"y":1.65},{"x":3.60,"y":1.85},{"x":3.30,"y":1.55},
      {"x":3.00,"y":0.98},{"x":3.02,"y":1.10},{"x":2.98,"y":1.20},
      {"x":3.05,"y":1.16},{"x":3.07,"y":1.00},{"x":3.03,"y":1.11},
      {"x":3.10,"y":1.13},{"x":3.12,"y":1.24},{"x":3.08,"y":1.00},
      {"x":3.15,"y":1.33},{"x":3.17,"y":1.15},{"x":3.13,"y":1.23},
      {"x":3.20,"y":1.14},{"x":3.22,"y":1.26},{"x":3.18,"y":1.31},
      {"x":3.25,"y":1.33},{"x":3.27,"y":1.22},{"x":3.23,"y":1.40},
      {"x":3.30,"y":1.29},{"x":3.32,"y":1.50},{"x":3.28,"y":1.33},
      {"x":3.35,"y":1.48},{"x":3.37,"y":1.26},{"x":3.33,"y":1.41},
      {"x":3.40,"y":1.51},{"x":3.42,"y":1.40},{"x":3.38,"y":1.31},
      {"x":3.45,"y":1.50},{"x":3.47,"y":1.59},{"x":3.43,"y":1.41},
      {"x":3.50,"y":1.45},{"x":3.52,"y":1.57},{"x":3.48,"y":1.67},
      {"x":3.55,"y":1.63},{"x":3.57,"y":1.47},{"x":3.53,"y":1.58},
      {"x":3.60,"y":1.60},{"x":3.62,"y":1.71},{"x":3.58,"y":1.47},
      {"x":3.65,"y":1.80},{"x":3.67,"y":1.62},{"x":3.63,"y":1.70},
      {"x":3.70,"y":1.61},{"x":3.72,"y":1.73},{"x":3.68,"y":1.78},
      {"x":3.75,"y":1.80},{"x":3.77,"y":1.69},{"x":3.73,"y":1.87},
      {"x":3.80,"y":1.76},{"x":3.82,"y":1.97},{"x":3.78,"y":1.80},
      {"x":3.85,"y":1.95},{"x":3.87,"y":1.73},{"x":3.83,"y":1.88},
      {"x":3.90,"y":1.98},{"x":3.92,"y":1.87},{"x":3.88,"y":1.78},
      {"x":3.95,"y":1.97},{"x":3.97,"y":2.06},{"x":3.93,"y":1.88},
      {"x":4.00,"y":1.92},{"x":4.02,"y":2.04},{"x":3.98,"y":2.14},
      {"x":4.05,"y":2.10},{"x":4.07,"y":1.94},{"x":4.03,"y":2.05},
      {"x":4.10,"y":2.07},{"x":4.12,"y":2.18},{"x":4.08,"y":1.94},
      {"x":4.15,"y":2.27},{"x":4.17,"y":2.09},{"x":4.13,"y":2.17},
      {"x":4.20,"y":2.08},{"x":4.22,"y":2.20},{"x":4.18,"y":2.25},
      {"x":4.25,"y":2.27},{"x":4.27,"y":2.16},{"x":4.23,"y":2.34},
      {"x":4.30,"y":2.23},{"x":4.32,"y":2.44},{"x":4.28,"y":2.27},
      {"x":4.35,"y":2.42},{"x":4.37,"y":2.20},{"x":4.33,"y":2.35},
      {"x":4.40,"y":2.45},{"x":4.42,"y":2.34},{"x":4.38,"y":2.25},
      {"x":4.45,"y":2.44},{"x":4.47,"y":2.53},{"x":4.43,"y":2.35},
      {"x":4.50,"y":2.39},{"x":4.52,"y":2.51},{"x":4.48,"y":2.61},
      {"x":4.55,"y":2.57},{"x":4.57,"y":2.41},{"x":4.53,"y":2.52},
      {"x":4.60,"y":2.54},{"x":4.62,"y":2.65},{"x":4.58,"y":2.41},
      {"x":4.65,"y":2.74},{"x":4.67,"y":2.56},{"x":4.63,"y":2.64},
      {"x":4.70,"y":2.55},{"x":4.72,"y":2.67},{"x":4.68,"y":2.72},
      {"x":4.75,"y":2.74},{"x":4.77,"y":2.63},{"x":4.73,"y":2.81},
      {"x":4.80,"y":2.70},{"x":4.82,"y":2.91},{"x":4.78,"y":2.74},
      {"x":4.85,"y":2.89},{"x":4.87,"y":2.67},{"x":4.83,"y":2.82},
      {"x":4.90,"y":2.92},{"x":4.92,"y":2.81},{"x":4.88,"y":2.72},
      {"x":4.95,"y":2.91},{"x":4.97,"y":3.00},{"x":4.93,"y":2.82},
      {"x":5.00,"y":2.86},{"x":5.02,"y":2.98},{"x":4.98,"y":3.08},
      {"x":5.05,"y":3.04},{"x":5.07,"y":2.88},{"x":5.03,"y":2.99},
      {"x":5.10,"y":3.01},{"x":5.12,"y":3.12},{"x":5.08,"y":2.88},
      {"x":5.15,"y":3.21},{"x":5.17,"y":3.03},{"x":5.13,"y":3.11},
      {"x":5.20,"y":3.02},{"x":5.22,"y":3.14},{"x":5.25,"y":3.21},{"x":5.27,"y":3.10},
      {"x":5.30,"y":3.17},{"x":5.32,"y":3.38},{"x":5.35,"y":3.36},{"x":5.37,"y":3.14},
      {"x":5.40,"y":3.39},{"x":5.42,"y":3.28},{"x":5.45,"y":3.38},{"x":5.47,"y":3.47},
      {"x":5.50,"y":3.33},{"x":5.52,"y":3.45},{"x":5.55,"y":3.52},{"x":5.57,"y":3.44},
      {"x":3.025,"y":1.12},{"x":3.025,"y":1.02},{"x":3.075,"y":1.10},{"x":3.075,"y":1.20},{"x":3.125,"y":1.26},{"x":3.125,"y":1.16},
      {"x":3.175,"y":1.16},{"x":3.175,"y":1.25},{"x":3.225,"y":1.32},{"x":3.225,"y":1.18},{"x":3.275,"y":1.28},{"x":3.275,"y":1.38},
      {"x":3.325,"y":1.38},{"x":3.325,"y":1.32},{"x":3.375,"y":1.33},{"x":3.375,"y":1.49},{"x":3.425,"y":1.52},{"x":3.425,"y":1.43},
      {"x":3.475,"y":1.50},{"x":3.475,"y":1.61},{"x":3.525,"y":1.59},{"x":3.525,"y":1.49},{"x":3.575,"y":1.57},{"x":3.575,"y":1.67},
      {"x":3.625,"y":1.73},{"x":3.625,"y":1.63},{"x":3.675,"y":1.63},{"x":3.675,"y":1.72},{"x":3.725,"y":1.79},{"x":3.725,"y":1.65},
      {"x":3.775,"y":1.75},{"x":3.775,"y":1.85},{"x":3.825,"y":1.85},{"x":3.825,"y":1.79},{"x":3.875,"y":1.80},{"x":3.875,"y":1.96},
      {"x":3.925,"y":1.99},{"x":3.925,"y":1.90},{"x":3.975,"y":1.97},{"x":3.975,"y":2.08},{"x":4.025,"y":2.06},{"x":4.025,"y":1.96},
      {"x":4.075,"y":2.04},{"x":4.075,"y":2.14},{"x":4.125,"y":2.20},{"x":4.125,"y":2.10},{"x":4.175,"y":2.10},{"x":4.175,"y":2.19},
      {"x":4.225,"y":2.26},{"x":4.225,"y":2.12},{"x":4.275,"y":2.22},{"x":4.275,"y":2.32},{"x":4.325,"y":2.32},{"x":4.325,"y":2.26},
      {"x":4.375,"y":2.27},{"x":4.375,"y":2.43},{"x":4.425,"y":2.46},{"x":4.425,"y":2.37},{"x":4.475,"y":2.44},{"x":4.475,"y":2.55},
      {"x":4.525,"y":2.53},{"x":4.525,"y":2.43},{"x":4.575,"y":2.51},{"x":4.575,"y":2.61},{"x":4.625,"y":2.67},{"x":4.625,"y":2.57},
      {"x":4.675,"y":2.57},{"x":4.675,"y":2.66},{"x":4.725,"y":2.73},{"x":4.725,"y":2.59},{"x":4.775,"y":2.69},{"x":4.775,"y":2.79},
      {"x":4.825,"y":2.79},{"x":4.825,"y":2.73},{"x":4.875,"y":2.74},{"x":4.875,"y":2.90},{"x":4.925,"y":2.93},{"x":4.925,"y":2.84},
      {"x":4.975,"y":2.91},{"x":4.975,"y":3.02},{"x":5.025,"y":3.00},{"x":5.025,"y":2.90},{"x":5.075,"y":2.98},{"x":5.075,"y":3.08},
      {"x":5.125,"y":3.14},{"x":5.125,"y":3.04},{"x":5.175,"y":3.04},{"x":5.175,"y":3.13},{"x":5.225,"y":3.20},{"x":5.225,"y":3.06},
      {"x":5.275,"y":3.16},{"x":5.275,"y":3.26},{"x":5.325,"y":3.26},{"x":5.325,"y":3.20},{"x":5.375,"y":3.21},{"x":5.375,"y":3.37},
      {"x":5.425,"y":3.40},{"x":5.425,"y":3.31},{"x":5.475,"y":3.38},{"x":5.475,"y":3.49}
    ],
    "purity": [
      {"x":2.30,"y":0.30},{"x":2.44,"y":0.30},{"x":2.59,"y":0.30},{"x":2.79,"y":0.30},{"x":2.85,"y":0.30},{"x":2.91,"y":0.30},{"x":2.97,"y":0.30},{"x":3.04,"y":0.30},
      {"x":3.10,"y":0.30},{"x":3.16,"y":0.30},{"x":3.22,"y":0.30},{"x":3.27,"y":0.30},{"x":3.33,"y":0.30},{"x":3.39,"y":0.30},{"x":3.46,"y":0.30},{"x":3.52,"y":0.30},
      {"x":3.61,"y":0.30},{"x":3.70,"y":0.30},{"x":3.75,"y":0.30},{"x":3.94,"y":0.30},
      {"x":2.72,"y":0.48},{"x":2.88,"y":0.48},{"x":2.91,"y":0.48},{"x":3.09,"y":0.48},{"x":3.16,"y":0.48},{"x":3.23,"y":0.48},{"x":3.29,"y":0.48},{"x":3.35,"y":0.48},
      {"x":3.42,"y":0.48},{"x":3.48,"y":0.48},{"x":3.54,"y":0.48},{"x":3.61,"y":0.48},{"x":3.67,"y":0.48},{"x":3.73,"y":0.48},{"x":3.79,"y":0.48},{"x":3.86,"y":0.48},
      {"x":3.92,"y":0.48},{"x":4.03,"y":0.48},{"x":4.17,"y":0.48},
      {"x":2.62,"y":0.60},{"x":2.91,"y":0.60},{"x":3.14,"y":0.60},{"x":3.23,"y":0.60},{"x":3.29,"y":0.60},{"x":3.35,"y":0.60},{"x":3.42,"y":0.60},{"x":3.58,"y":0.60},
      {"x":3.65,"y":0.60},{"x":3.73,"y":0.60},{"x":3.86,"y":0.60},{"x":3.98,"y":0.60},
      {"x":3.02,"y":0.78},{"x":3.14,"y":0.70},{"x":3.25,"y":0.78},{"x":3.35,"y":0.70},{"x":3.39,"y":0.78},{"x":3.48,"y":0.78},{"x":3.58,"y":0.70},{"x":3.71,"y":0.78},
      {"x":3.81,"y":0.70},{"x":3.90,"y":0.78},
      {"x":3.23,"y":0.90},{"x":3.35,"y":0.95},{"x":3.44,"y":0.90},{"x":3.52,"y":0.95},{"x":3.61,"y":0.90},{"x":3.81,"y":0.95},{"x":3.94,"y":0.90},{"x":4.07,"y":0.95},
      {"x":3.02,"y":1.05},{"x":3.31,"y":1.05},{"x":3.42,"y":1.05},{"x":3.52,"y":1.05},{"x":3.61,"y":1.05},{"x":3.71,"y":1.05},
      {"x":3.31,"y":1.15},{"x":3.39,"y":1.15},{"x":3.48,"y":1.15},{"x":3.58,"y":1.15},
      {"x":3.56,"y":1.29},{"x":3.65,"y":1.29},{"x":3.73,"y":1.29},{"x":3.58,"y":1.43},{"x":3.71,"y":1.43},{"x":3.79,"y":1.43},
      {"x":3.40,"y":1.45},{"x":3.44,"y":1.52},{"x":3.88,"y":1.60},{"x":3.98,"y":1.63},{"x":4.11,"y":1.55},{"x":4.15,"y":1.37},{"x":4.24,"y":1.17},{"x":4.32,"y":0.95},
      {"x":4.44,"y":0.86},{"x":4.49,"y":1.12},{"x":4.15,"y":0.72},{"x":4.28,"y":0.78},{"x":4.18,"y":0.48},{"x":3.69,"y":1.55},{"x":4.07,"y":1.95},{"x":4.22,"y":1.92},
      {"x":3.90,"y":1.20},{"x":3.95,"y":0.95},{"x":4.00,"y":0.70},{"x":4.05,"y":1.00},
      {"x":5.85,"y":3.12},{"x":5.79,"y":3.03},{"x":5.87,"y":2.94},{"x":5.54,"y":2.86},{"x":5.42,"y":2.80},{"x":5.48,"y":2.72},{"x":5.33,"y":2.77},{"x":5.27,"y":2.60},
      {"x":5.35,"y":2.55},{"x":5.21,"y":2.63},{"x":5.12,"y":2.74},{"x":4.93,"y":2.56},{"x":5.04,"y":2.49},{"x":5.10,"y":2.43},{"x":4.83,"y":2.38},{"x":4.70,"y":2.29},
      {"x":4.74,"y":2.23},{"x":4.60,"y":2.23},{"x":4.62,"y":2.16},{"x":4.39,"y":2.09},{"x":4.45,"y":2.00},{"x":4.22,"y":1.89},{"x":5.29,"y":2.15},{"x":5.08,"y":1.92},
      {"x":5.60,"y":2.70},{"x":5.65,"y":2.75},{"x":5.70,"y":2.80},{"x":5.58,"y":2.55},
      {"x":3.70,"y":1.08},{"x":3.72,"y":0.85},{"x":3.68,"y":0.66},{"x":3.71,"y":1.28},
      {"x":3.75,"y":1.01},{"x":3.77,"y":1.21},{"x":3.73,"y":0.83},{"x":3.76,"y":0.58},
      {"x":3.80,"y":0.84},{"x":3.82,"y":1.11},{"x":3.78,"y":1.32},{"x":3.81,"y":1.27},
      {"x":3.85,"y":1.19},{"x":3.87,"y":0.84},{"x":3.83,"y":1.07},{"x":3.86,"y":0.77},
      {"x":3.90,"y":1.06},{"x":3.92,"y":1.29},{"x":3.88,"y":0.78},{"x":3.91,"y":1.51},
      {"x":3.95,"y":1.43},{"x":3.97,"y":1.04},{"x":3.93,"y":1.22},{"x":3.96,"y":0.81},
      {"x":4.00,"y":0.96},{"x":4.02,"y":1.22},{"x":3.98,"y":1.34},{"x":4.01,"y":1.40},
      {"x":4.05,"y":1.32},{"x":4.07,"y":1.08},{"x":4.03,"y":1.46},{"x":4.06,"y":0.80},
      {"x":4.10,"y":1.18},{"x":4.12,"y":1.62},{"x":4.08,"y":1.26},{"x":4.11,"y":1.59},
      {"x":4.15,"y":1.53},{"x":4.17,"y":1.05},{"x":4.13,"y":1.38},{"x":4.16,"y":1.08},
      {"x":4.20,"y":1.53},{"x":4.22,"y":1.30},{"x":4.18,"y":1.11},{"x":4.21,"y":1.73},
      {"x":4.25,"y":1.45},{"x":4.27,"y":1.65},{"x":4.23,"y":1.27},{"x":4.26,"y":1.02},
      {"x":4.30,"y":1.29},{"x":4.32,"y":1.56},{"x":4.28,"y":1.77},{"x":4.31,"y":1.72},
      {"x":4.35,"y":1.63},{"x":4.37,"y":1.28},{"x":4.33,"y":1.51},{"x":4.36,"y":1.21},
      {"x":4.40,"y":1.51},{"x":4.42,"y":1.74},{"x":4.38,"y":1.23},{"x":4.41,"y":1.96},
      {"x":4.45,"y":1.87},{"x":4.47,"y":1.48},{"x":4.43,"y":1.66},{"x":4.46,"y":1.25},
      {"x":4.50,"y":1.41},{"x":4.52,"y":1.66},{"x":4.48,"y":1.78},{"x":4.51,"y":1.85},
      {"x":4.55,"y":1.77},{"x":4.57,"y":1.53},{"x":4.53,"y":1.90},{"x":4.56,"y":1.24},
      {"x":4.60,"y":1.63},{"x":4.62,"y":2.06},{"x":4.58,"y":1.70},{"x":4.61,"y":2.03},
      {"x":4.65,"y":1.97},{"x":4.67,"y":1.49},{"x":4.63,"y":1.82},{"x":4.66,"y":1.53},
      {"x":4.70,"y":1.97},{"x":4.72,"y":1.74},{"x":4.68,"y":1.55},{"x":4.71,"y":2.17},
      {"x":4.75,"y":1.90},{"x":4.77,"y":2.10},{"x":4.73,"y":1.72},{"x":4.76,"y":1.47},
      {"x":4.80,"y":1.73},{"x":4.82,"y":2.00},{"x":4.78,"y":2.21},{"x":4.81,"y":2.16},
      {"x":4.85,"y":2.08},{"x":4.87,"y":1.73},{"x":4.83,"y":1.96},{"x":4.86,"y":1.66},
      {"x":4.90,"y":1.95},{"x":4.92,"y":2.18},{"x":4.88,"y":1.67},{"x":4.91,"y":2.40},
      {"x":4.95,"y":2.32},{"x":4.97,"y":1.93},{"x":4.93,"y":2.11},
      {"x":5.00,"y":1.85},{"x":5.02,"y":2.11},{"x":4.98,"y":2.23},
      {"x":5.05,"y":2.21},{"x":5.07,"y":1.97},{"x":5.03,"y":2.35},
      {"x":5.10,"y":2.07},{"x":5.12,"y":2.51},{"x":5.08,"y":2.15},
      {"x":5.15,"y":2.42},{"x":5.17,"y":1.94},{"x":5.13,"y":2.27},
      {"x":5.20,"y":2.42},{"x":5.22,"y":2.19},{"x":5.18,"y":2.00},
      {"x":5.25,"y":2.34},{"x":5.27,"y":2.54},{"x":5.23,"y":2.16},
      {"x":5.30,"y":2.18},{"x":5.32,"y":2.45},{"x":5.28,"y":2.66},
      {"x":5.35,"y":2.52},{"x":5.37,"y":2.17},{"x":5.40,"y":2.40},{"x":5.42,"y":2.63},
      {"x":5.45,"y":2.76},{"x":5.47,"y":2.37},{"x":5.50,"y":2.30},{"x":5.52,"y":2.55},
      {"x":5.55,"y":2.66},{"x":5.57,"y":2.42},
      {"x":3.925,"y":1.21},{"x":3.925,"y":1.00},{"x":3.975,"y":1.12},{"x":3.975,"y":1.33},{"x":4.025,"y":1.40},{"x":4.025,"y":1.19},
      {"x":4.075,"y":1.12},{"x":4.075,"y":1.31},{"x":4.125,"y":1.42},{"x":4.125,"y":1.12},{"x":4.175,"y":1.27},{"x":4.175,"y":1.48},
      {"x":4.225,"y":1.43},{"x":4.225,"y":1.31},{"x":4.275,"y":1.27},{"x":4.275,"y":1.61},{"x":4.325,"y":1.62},{"x":4.325,"y":1.43},
      {"x":4.375,"y":1.52},{"x":4.375,"y":1.74},{"x":4.425,"y":1.65},{"x":4.425,"y":1.44},{"x":4.475,"y":1.56},{"x":4.475,"y":1.77},
      {"x":4.525,"y":1.85},{"x":4.525,"y":1.64},{"x":4.575,"y":1.56},{"x":4.575,"y":1.76},{"x":4.625,"y":1.86},{"x":4.625,"y":1.56},
      {"x":4.675,"y":1.71},{"x":4.675,"y":1.92},{"x":4.725,"y":1.88},{"x":4.725,"y":1.76},{"x":4.775,"y":1.71},{"x":4.775,"y":2.06},
      {"x":4.825,"y":2.07},{"x":4.825,"y":1.87},{"x":4.875,"y":1.96},{"x":4.875,"y":2.19},{"x":4.925,"y":2.10},{"x":4.925,"y":1.89},
      {"x":4.975,"y":2.01},{"x":4.975,"y":2.22},{"x":5.025,"y":2.29},{"x":5.025,"y":2.08},{"x":5.075,"y":2.01},{"x":5.075,"y":2.20},
      {"x":5.125,"y":2.31},{"x":5.125,"y":2.01},{"x":5.175,"y":2.16},{"x":5.175,"y":2.37},{"x":5.225,"y":2.32},{"x":5.225,"y":2.20},
      {"x":5.275,"y":2.16},{"x":5.275,"y":2.50},{"x":5.325,"y":2.51},{"x":5.325,"y":2.32},{"x":5.375,"y":2.41},{"x":5.375,"y":2.63}
    ]
  },
  "spacing": 12,
  "vconcat": [
    {
      "spacing": 2.5,
      "hconcat": [
        {
          "spacing": 1,
          "hconcat": [
            {
              "width": 310, "height": 220,
              "layer": [
                {"data": {"name": "harm"}, "mark": {"type": "circle", "size": 46, "color": "#1f77b4", "opacity": 1},
                 "encoding": {
                   "x": {"field": "x", "type": "quantitative", "scale": {"domain": [2.05, 6.04], "nice": false, "zero": false}, "axis": {"values": [3, 4, 5, 6], "title": "log # words"}},
                   "y": {"field": "y", "type": "quantitative", "scale": {"domain": [-0.09, 3.82], "nice": false, "zero": false}, "axis": {"values": [0, 1, 2, 3], "title": "log # Harm words"}}}},
                {"data": {"name": "fits"}, "transform": [{"filter": "datum.panel === 'a'"}], "mark": {"type": "line", "color": "#d62728", "strokeWidth": 1.6},
                 "encoding": {"x": {"field": "x", "type": "quantitative"}, "y": {"field": "y", "type": "quantitative"}}},
                {"data": {"name": "stats"}, "transform": [{"filter": "datum.panel === 'a'"}], "mark": {"type": "text", "font": "DejaVu Sans", "fontSize": 20, "align": "left", "baseline": "alphabetic", "lineBreak": "\n", "lineHeight": 23.4, "color": "#111111"},
                 "encoding": {"x": {"datum": 4.54, "type": "quantitative"}, "y": {"datum": 0.93, "type": "quantitative"}, "text": {"field": "label"}}},
                {"data": {"name": "stats"}, "transform": [{"filter": "datum.panel === 'a'"}], "mark": {"type": "text", "font": "Liberation Serif", "fontSize": 19, "align": "left", "baseline": "alphabetic", "color": "#111111"},
                 "encoding": {"x": {"datum": 2.15, "type": "quantitative"}, "y": {"datum": 3.52, "type": "quantitative"}, "text": {"field": "tag"}}}
              ]
            },
            {
              "width": 311, "height": 220,
              "layer": [
                {"data": {"name": "fairness"}, "mark": {"type": "circle", "size": 46, "color": "#1f77b4", "opacity": 1},
                 "encoding": {
                   "x": {"field": "x", "type": "quantitative", "scale": {"domain": [2.41, 6.0], "nice": false, "zero": false}, "axis": {"values": [3, 4, 5], "title": "log # words"}},
                   "y": {"field": "y", "type": "quantitative", "scale": {"domain": [-0.05, 3.39], "nice": false, "zero": false}, "axis": {"values": [0, 1, 2, 3], "title": "log # Fairness words"}}}},
                {"data": {"name": "fits"}, "transform": [{"filter": "datum.panel === 'b'"}], "mark": {"type": "line", "color": "#d62728", "strokeWidth": 1.6},
                 "encoding": {"x": {"field": "x", "type": "quantitative"}, "y": {"field": "y", "type": "quantitative"}}},
                {"data": {"name": "stats"}, "transform": [{"filter": "datum.panel === 'b'"}], "mark": {"type": "text", "font": "DejaVu Sans", "fontSize": 20, "align": "left", "baseline": "alphabetic", "lineBreak": "\n", "lineHeight": 23.4, "color": "#111111"},
                 "encoding": {"x": {"datum": 4.66, "type": "quantitative"}, "y": {"datum": 0.86, "type": "quantitative"}, "text": {"field": "label"}}},
                {"data": {"name": "stats"}, "transform": [{"filter": "datum.panel === 'b'"}], "mark": {"type": "text", "font": "Liberation Serif", "fontSize": 19, "align": "left", "baseline": "alphabetic", "color": "#111111"},
                 "encoding": {"x": {"datum": 2.52, "type": "quantitative"}, "y": {"datum": 3.14, "type": "quantitative"}, "text": {"field": "tag"}}}
              ]
            }
          ]
        },
        {
          "width": 307, "height": 219,
          "layer": [
            {"data": {"name": "ingroup"}, "mark": {"type": "circle", "size": 46, "color": "#1f77b4", "opacity": 1},
             "encoding": {
               "x": {"field": "x", "type": "quantitative", "scale": {"domain": [2.01, 6.0], "nice": false, "zero": false}, "axis": {"values": [3, 4, 5, 6], "title": "log # words"}},
               "y": {"field": "y", "type": "quantitative", "scale": {"domain": [0.155, 3.93], "nice": false, "zero": false}, "axis": {"values": [1, 2, 3], "title": "log # Ingroup words"}}}},
            {"data": {"name": "fits"}, "transform": [{"filter": "datum.panel === 'c'"}], "mark": {"type": "line", "color": "#d62728", "strokeWidth": 1.6},
             "encoding": {"x": {"field": "x", "type": "quantitative"}, "y": {"field": "y", "type": "quantitative"}}},
            {"data": {"name": "stats"}, "transform": [{"filter": "datum.panel === 'c'"}], "mark": {"type": "text", "font": "DejaVu Sans", "fontSize": 20, "align": "left", "baseline": "alphabetic", "lineBreak": "\n", "lineHeight": 23.4, "color": "#111111"},
             "encoding": {"x": {"datum": 4.55, "type": "quantitative"}, "y": {"datum": 1.12, "type": "quantitative"}, "text": {"field": "label"}}},
            {"data": {"name": "stats"}, "transform": [{"filter": "datum.panel === 'c'"}], "mark": {"type": "text", "font": "Liberation Serif", "fontSize": 19, "align": "left", "baseline": "alphabetic", "color": "#111111"},
             "encoding": {"x": {"datum": 2.13, "type": "quantitative"}, "y": {"datum": 3.64, "type": "quantitative"}, "text": {"field": "tag"}}}
          ]
        }
      ]
    },
    {
      "spacing": 5,
      "hconcat": [
        {
          "width": 302, "height": 217,
          "layer": [
            {"data": {"name": "authority"}, "mark": {"type": "circle", "size": 46, "color": "#1f77b4", "opacity": 1},
             "encoding": {
               "x": {"field": "x", "type": "quantitative", "scale": {"domain": [2.04, 6.0], "nice": false, "zero": false}, "axis": {"values": [3, 4, 5, 6], "title": "log # words"}},
               "y": {"field": "y", "type": "quantitative", "scale": {"domain": [0.16, 3.96], "nice": false, "zero": false}, "axis": {"values": [1, 2, 3], "title": "log # Authority words"}}}},
            {"data": {"name": "fits"}, "transform": [{"filter": "datum.panel === 'd'"}], "mark": {"type": "line", "color": "#d62728", "strokeWidth": 1.6},
             "encoding": {"x": {"field": "x", "type": "quantitative"}, "y": {"field": "y", "type": "quantitative"}}},
            {"data": {"name": "stats"}, "transform": [{"filter": "datum.panel === 'd'"}], "mark": {"type": "text", "font": "DejaVu Sans", "fontSize": 20, "align": "left", "baseline": "alphabetic", "lineBreak": "\n", "lineHeight": 23.4, "color": "#111111"},
             "encoding": {"x": {"datum": 4.53, "type": "quantitative"}, "y": {"datum": 1.19, "type": "quantitative"}, "text": {"field": "label"}}},
            {"data": {"name": "stats"}, "transform": [{"filter": "datum.panel === 'd'"}], "mark": {"type": "text", "font": "Liberation Serif", "fontSize": 19, "align": "left", "baseline": "alphabetic", "color": "#111111"},
             "encoding": {"x": {"datum": 2.15, "type": "quantitative"}, "y": {"datum": 3.67, "type": "quantitative"}, "text": {"field": "tag"}}}
          ]
        },
        {
          "spacing": 12,
          "hconcat": [
            {
              "width": 309, "height": 221,
              "layer": [
                {"data": {"name": "purity"}, "mark": {"type": "circle", "size": 46, "color": "#1f77b4", "opacity": 1},
                 "encoding": {
                   "x": {"field": "x", "type": "quantitative", "scale": {"domain": [2.13, 6.03], "nice": false, "zero": false}, "axis": {"values": [3, 4, 5, 6], "title": "log # words"}},
                   "y": {"field": "y", "type": "quantitative", "scale": {"domain": [-0.49, 3.27], "nice": false, "zero": false}, "axis": {"values": [0, 1, 2, 3], "title": "log # Purity words"}}}},
                {"data": {"name": "fits"}, "transform": [{"filter": "datum.panel === 'e'"}], "mark": {"type": "line", "color": "#d62728", "strokeWidth": 1.6},
                 "encoding": {"x": {"field": "x", "type": "quantitative"}, "y": {"field": "y", "type": "quantitative"}}},
                {"data": {"name": "stats"}, "transform": [{"filter": "datum.panel === 'e'"}], "mark": {"type": "text", "font": "DejaVu Sans", "fontSize": 20, "align": "left", "baseline": "alphabetic", "lineBreak": "\n", "lineHeight": 23.4, "color": "#111111"},
                 "encoding": {"x": {"datum": 4.58, "type": "quantitative"}, "y": {"datum": 0.49, "type": "quantitative"}, "text": {"field": "label"}}},
                {"data": {"name": "stats"}, "transform": [{"filter": "datum.panel === 'e'"}], "mark": {"type": "text", "font": "Liberation Serif", "fontSize": 19, "align": "left", "baseline": "alphabetic", "color": "#111111"},
                 "encoding": {"x": {"datum": 2.22, "type": "quantitative"}, "y": {"datum": 3.0, "type": "quantitative"}, "text": {"field": "tag"}}}
              ]
            },
            {
              "width": 150, "height": 221,
              "view": {"stroke": null},
              "layer": [
                {"data": {"values": [{"head": "Legend", "rank": 0}]},
                 "mark": {"type": "text", "font": "Liberation Serif", "fontSize": 18, "fontWeight": "bold", "align": "left", "baseline": "alphabetic", "color": "#000000"},
                 "encoding": {
                   "x": {"datum": 0, "type": "quantitative", "scale": {"domain": [0, 1], "nice": false, "zero": false}, "axis": null},
                   "y": {"field": "rank", "type": "quantitative", "scale": {"domain": [-0.68, 7.39], "reverse": true, "nice": false, "zero": false}, "axis": null},
                   "text": {"field": "head"}}},
                {"data": {"name": "legendItems"},
                 "mark": {"type": "text", "font": "Liberation Serif", "fontSize": 15, "align": "left", "baseline": "alphabetic", "color": "#000000"},
                 "encoding": {"x": {"datum": 0, "type": "quantitative"}, "y": {"field": "rank", "type": "quantitative"}, "text": {"field": "code"}}},
                {"data": {"name": "legendItems"},
                 "mark": {"type": "text", "font": "Liberation Serif", "fontSize": 15, "align": "left", "baseline": "alphabetic", "dx": 31, "color": "#000000"},
                 "encoding": {"x": {"datum": 0, "type": "quantitative"}, "y": {"field": "rank", "type": "quantitative"}, "text": {"field": "name"}}}
              ]
            }
          ]
        }
      ]
    }
  ]
}
